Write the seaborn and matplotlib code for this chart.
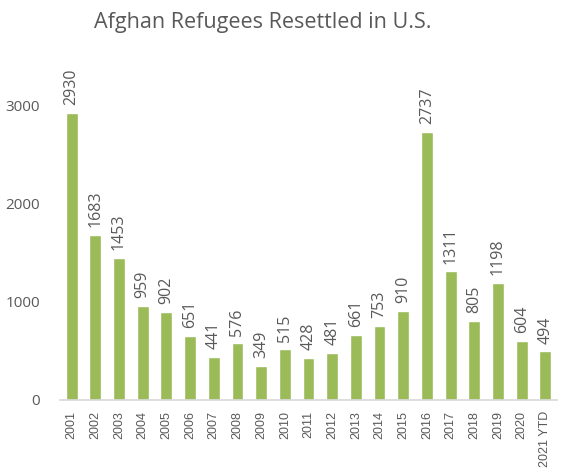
import matplotlib
matplotlib.use("Agg")
import matplotlib.pyplot as plt
import seaborn as sns
import pandas as pd

years = ["2001", "2002", "2003", "2004", "2005", "2006", "2007", "2008", "2009", "2010",
         "2011", "2012", "2013", "2014", "2015", "2016", "2017", "2018", "2019", "2020",
         "2021 YTD"]
refugees = [2930, 1683, 1453, 959, 902, 651, 441, 576, 349, 515,
            428, 481, 661, 753, 910, 2737, 1311, 805, 1198, 604, 494]
yticks = [0, 1000, 2000, 3000]

df = pd.DataFrame({"year": years, "refugees": refugees})

sns.set_theme(style="white")
plt.rcParams["font.family"] = ["Open Sans", "DejaVu Sans"]
text_color = "#595959"

fig = plt.figure(figsize=(5.64, 4.71), dpi=100)
ax = fig.add_axes([0.106, 0.151, 0.882, 0.728])

sns.barplot(data=df, x="year", y="refugees", color="#9BBB59", saturation=1,
            width=0.5, ax=ax)

for i, v in enumerate(refugees):
    ax.text(i, v + 80, str(v), rotation=90, ha="center", va="bottom",
            fontsize=11.5, color=text_color)

ax.set_ylim(0, 3500)
ax.set_xlim(-0.5, len(years) - 0.5)
ax.set_yticks(yticks)
ax.set_yticklabels([str(t) for t in yticks], fontsize=11, color=text_color)
ax.tick_params(axis="y", length=0, pad=14)
ax.tick_params(axis="x", length=0, pad=8)
for lbl in ax.get_xticklabels():
    lbl.set_rotation(90)
    lbl.set_fontsize(9)
    lbl.set_color(text_color)
    lbl.set_family(["Liberation Sans", "DejaVu Sans"])
ax.set_xlabel("")
ax.set_ylabel("")
for s in ["top", "right", "left"]:
    ax.spines[s].set_visible(False)
ax.spines["bottom"].set_color("#D9D9D9")

fig.text(0.465, 0.953, "Afghan Refugees Resettled in U.S.", ha="center",
         va="center", fontsize=15.5, color=text_color)

fig.savefig("out.png", dpi=100)
plt.close()
